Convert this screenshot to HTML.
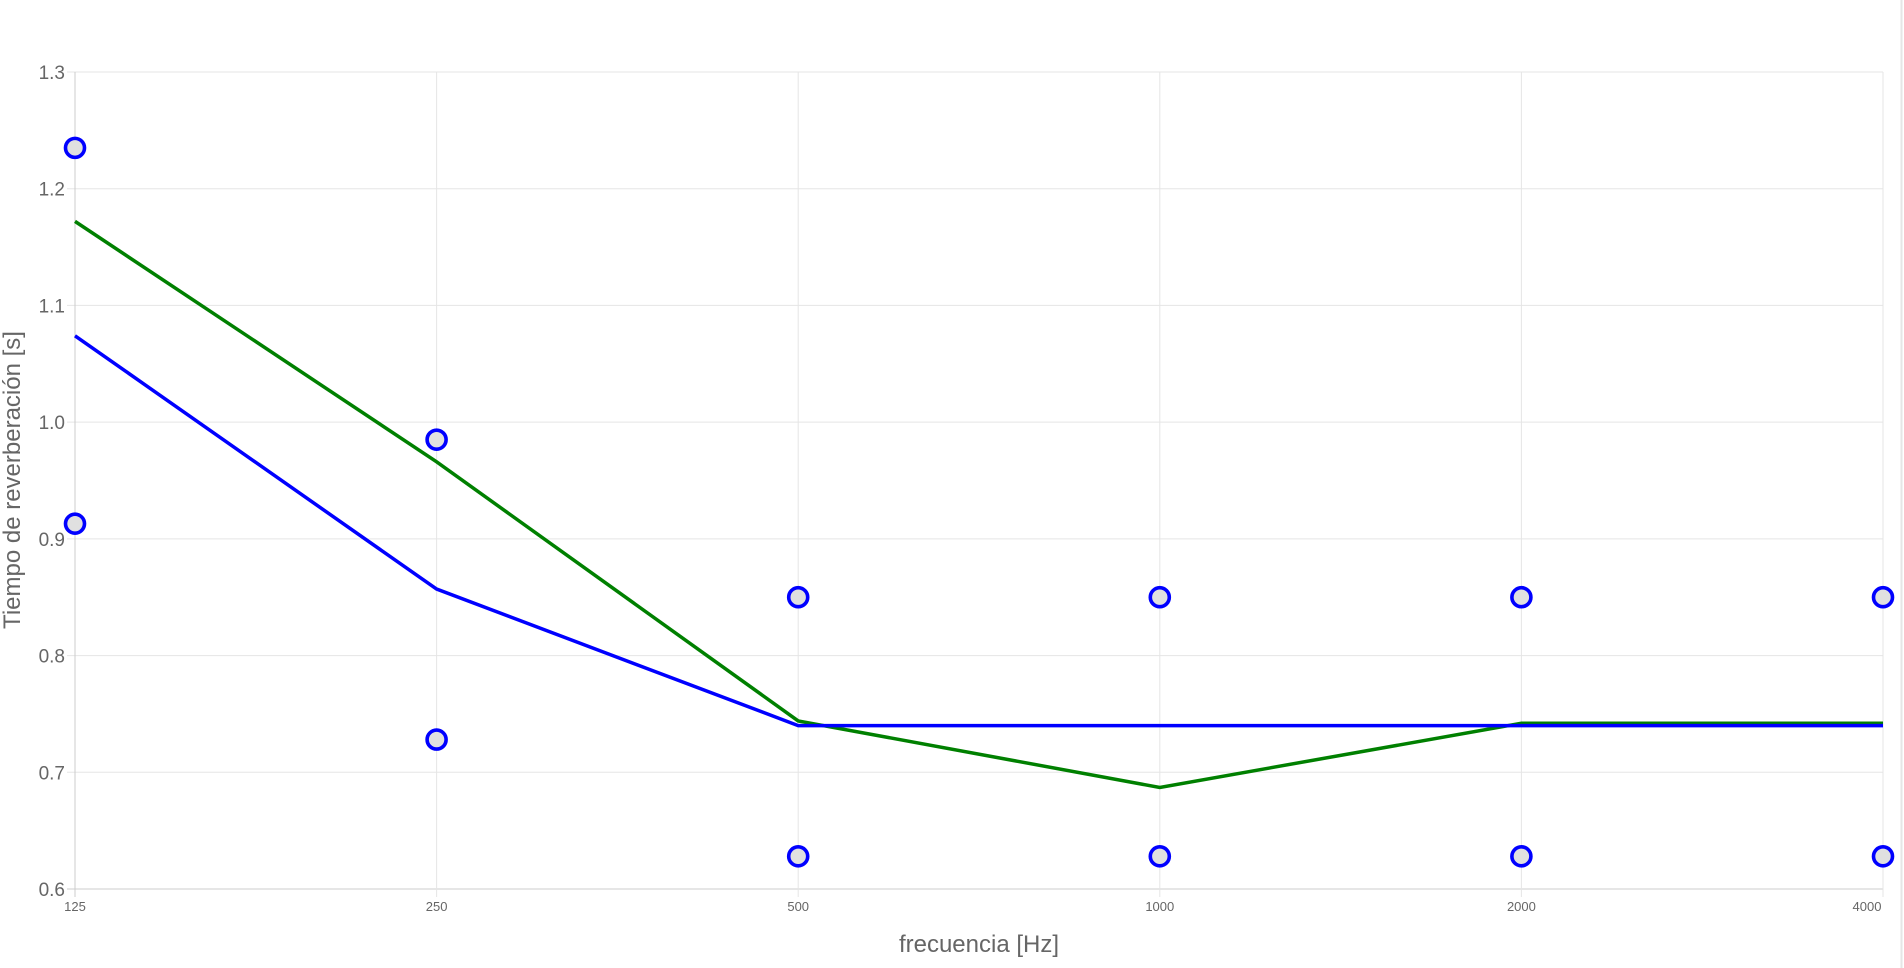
<!DOCTYPE html>
<html><head><meta charset="utf-8"><style>
html,body{margin:0;padding:0;background:#fff;}
svg{display:block;font-family:"Liberation Sans",sans-serif;}
</style></head><body>
<svg id="chart" width="1904" height="968" xmlns="http://www.w3.org/2000/svg">
<line x1="1901.5" y1="0" x2="1901.5" y2="968" stroke="#e6e6e6" stroke-width="2"/>
<g id="grid"></g>
<g id="axes"></g>
<g id="series"></g>
<text x="979" y="952" text-anchor="middle" font-size="24" fill="#666">frecuencia [Hz]</text>
<text transform="translate(20,480) rotate(-90)" text-anchor="middle" font-size="24" fill="#666">Tiempo de reverberación [s]</text>
</svg>
<script>
const categories = ["125","250","500","1000","2000","4000"];
const yTicks = [0.6,0.7,0.8,0.9,1.0,1.1,1.2,1.3];
const greenSeries = [1.172,0.966,0.744,0.687,0.742,0.742];
const blueSeries = [1.074,0.857,0.740,0.740,0.740,0.740];
const upperPoints = [1.235,0.985,0.850,0.850,0.850,0.850];
const lowerPoints = [0.913,0.728,0.628,0.628,0.628,0.628];

const L=75,R=1883,T=72,B=889,yMin=0.6,yMax=1.3;
const xs=i=>L+(R-L)*i/(categories.length-1);
const ys=v=>B-(v-yMin)/(yMax-yMin)*(B-T);
const NS="http://www.w3.org/2000/svg";
function mk(tag,attrs,parent){const e=document.createElementNS(NS,tag);for(const k in attrs)e.setAttribute(k,attrs[k]);parent.appendChild(e);return e;}
const grid=document.getElementById('grid'),axes=document.getElementById('axes'),series=document.getElementById('series');
yTicks.forEach(v=>{
  const y=ys(v);
  const g=mk('line',{x1:L-8,x2:R,y1:y,y2:y,stroke:v===yMin?'#ccc':'#e5e5e5','stroke-width':1},grid);
  
  
  const t=mk('text',{x:L-10,y:y+7,'text-anchor':'end','font-size':19,fill:'#666'},axes);
  t.textContent=v.toFixed(1);
  
  
});
categories.forEach((c,i)=>{
  const x=xs(i);
  const g=mk('line',{x1:x,x2:x,y1:T,y2:B+8,stroke:i===0?'#ccc':'#e5e5e5','stroke-width':1},grid);
  
  
  const t=mk('text',{x:i===categories.length-1?x-16:x,y:911,'text-anchor':'middle','font-size':13,fill:'#666'},axes);
  t.textContent=c;
  
  
});
function line(data,color,name){
  const p=mk('polyline',{points:data.map((v,i)=>xs(i)+','+ys(v)).join(' '),fill:'none',stroke:color,'stroke-width':3.5},series);
  
  
}
line(greenSeries,'#008000','green-line');
line(blueSeries,'#0000ff','blue-line');
[upperPoints,lowerPoints].forEach((arr,k)=>arr.forEach((v,i)=>{
  const c=mk('circle',{cx:xs(i),cy:ys(v),r:9.5,fill:'#e0e0e0',stroke:'#0000ff','stroke-width':3.6},series);
  
  
}));
</script>
</body></html>
